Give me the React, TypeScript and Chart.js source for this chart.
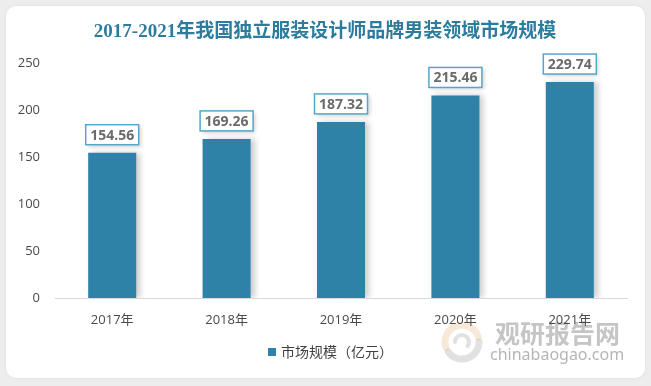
import React, { useEffect, useRef } from "react";
import { Chart, registerables } from "chart.js";

Chart.register(...registerables);

const titleText = "2017-2021年我国独立服装设计师品牌男装领域市场规模";
const categories = ["2017年", "2018年", "2019年", "2020年", "2021年"];
const marketSize = [154.56, 169.26, 187.32, 215.46, 229.74];
const seriesName = "市场规模（亿元）";
const yMin = 0;
const yMax = 250;
const yStep = 50;

const BAR_COLOR = "#2f82a7";
const BOX_BORDER = "#56a6cb";

const decorPlugin = {
  id: "decor",
  beforeDraw(chart: any) {
    const ctx = chart.ctx;
    ctx.save();
    // watermark logo swirl
    ctx.lineCap = "round";
    ctx.lineWidth = 7;
    ctx.strokeStyle = "rgba(235,190,140,0.35)";
    ctx.beginPath();
    ctx.arc(462, 342, 17, Math.PI * 0.9, Math.PI * 1.9);
    ctx.stroke();
    ctx.strokeStyle = "rgba(170,170,170,0.35)";
    ctx.beginPath();
    ctx.arc(462, 342, 17, Math.PI * 0.0, Math.PI * 0.8);
    ctx.stroke();
    ctx.lineWidth = 4;
    ctx.beginPath();
    ctx.arc(462, 342, 7, Math.PI * 1.0, Math.PI * 2.2);
    ctx.stroke();
    // watermark text
    ctx.fillStyle = "rgba(150,150,150,0.55)";
    ctx.font = "bold 25px 'Noto Sans CJK SC'";
    ctx.textAlign = "left";
    ctx.textBaseline = "middle";
    ctx.fillText("观研报告网", 495, 333);
    ctx.fillStyle = "rgba(150,150,150,0.7)";
    ctx.font = "16px 'Noto Sans', 'DejaVu Sans'";
    ctx.fillText("chinabaogao.com", 490, 355);
    ctx.restore();
  },
  beforeDatasetsDraw(chart: any) {
    const ctx = chart.ctx;
    ctx.save();
    ctx.shadowColor = "rgba(0,0,0,0.2)";
    ctx.shadowBlur = 6;
    ctx.shadowOffsetX = 4;
    ctx.shadowOffsetY = 0;
  },
  afterDatasetsDraw(chart: any) {
    const ctx = chart.ctx;
    ctx.restore();
    const meta = chart.getDatasetMeta(0);
    const data = chart.data.datasets[0].data as number[];
    ctx.save();
    ctx.font = "bold 14px 'Open Sans', 'Noto Sans'";
    meta.data.forEach((bar: any, i: number) => {
      const label = data[i].toFixed(2);
      const w = 53;
      const h = 20;
      const x = bar.x - w / 2;
      const y = bar.y - 8 - h;
      ctx.save();
      ctx.shadowColor = "rgba(0,0,0,0.18)";
      ctx.shadowBlur = 4;
      ctx.shadowOffsetX = 2;
      ctx.shadowOffsetY = 2;
      ctx.fillStyle = "#ffffff";
      ctx.fillRect(x, y, w, h);
      ctx.restore();
      ctx.strokeStyle = BOX_BORDER;
      ctx.lineWidth = 1.5;
      ctx.strokeRect(x, y, w, h);
      ctx.fillStyle = "#6b6b6b";
      ctx.textAlign = "center";
      ctx.textBaseline = "middle";
      ctx.fillText(label, bar.x, y + h / 2 + 1);
    });
    ctx.restore();
  },
  afterDraw(chart: any) {
    const ctx = chart.ctx;
    ctx.save();
    // title
    ctx.fillStyle = "#2d7c9e";
    ctx.font = "bold 19px 'Liberation Serif', 'Noto Sans CJK SC'";
    ctx.textAlign = "center";
    ctx.textBaseline = "middle";
    ctx.fillText(titleText, 325, 32);
    // legend
    ctx.fillStyle = BAR_COLOR;
    ctx.fillRect(268, 348, 8, 8);
    ctx.fillStyle = "#404040";
    ctx.font = "14px 'Noto Sans CJK SC'";
    ctx.textAlign = "left";
    ctx.fillText(seriesName, 281, 352);
    ctx.restore();
  },
};

export default function App() {
  const ref = useRef<HTMLCanvasElement | null>(null);
  useEffect(() => {
    document.body.style.margin = "0";
    if (!ref.current) return;
    const chart = new Chart(ref.current, {
      type: "bar",
      data: {
        labels: categories,
        datasets: [
          {
            label: seriesName,
            data: marketSize,
            backgroundColor: BAR_COLOR,
            borderWidth: 0,
            categoryPercentage: 1,
            barPercentage: 0.42,
          },
        ],
      },
      options: {
        animation: false,
        responsive: false,
        maintainAspectRatio: false,
        layout: { padding: { top: 63, right: 24, bottom: 0, left: 0 } },
        plugins: {
          legend: { display: false },
          title: { display: false },
          tooltip: { enabled: false },
        },
        scales: {
          x: {
            grid: { display: false, drawTicks: false },
            border: { display: true, color: "#d9d9d9", width: 1 },
            ticks: {
              color: "#4a4a4a",
              font: { size: 13, family: "'Open Sans', 'Noto Sans CJK SC'" },
              padding: 14,
            },
            afterFit(scale: any) {
              scale.height = 88;
            },
          },
          y: {
            min: yMin,
            max: yMax,
            grid: { display: false, drawTicks: false },
            border: { display: false },
            ticks: {
              stepSize: yStep,
              color: "#4a4a4a",
              font: { size: 13, family: "'Open Sans', 'Noto Sans'" },
              padding: 15,
            },
            afterFit(scale: any) {
              scale.width = 55;
            },
          },
        },
      },
      plugins: [decorPlugin],
    });
    return () => chart.destroy();
  }, []);

  return (
    <div
      style={{
        position: "relative",
        width: 651,
        height: 386,
        background: "#ededed",
        overflow: "hidden",
      }}
    >
      <div
        style={{
          position: "absolute",
          left: 6,
          top: 6,
          width: 639,
          height: 372,
          background: "#ffffff",
          borderRadius: 10,
          boxShadow: "0 0 3px rgba(0,0,0,0.08)",
        }}
      />
      <canvas
        ref={ref}
        width={651}
        height={386}
        style={{ position: "absolute", left: 0, top: 0, width: 651, height: 386 }}
      />
    </div>
  );
}
